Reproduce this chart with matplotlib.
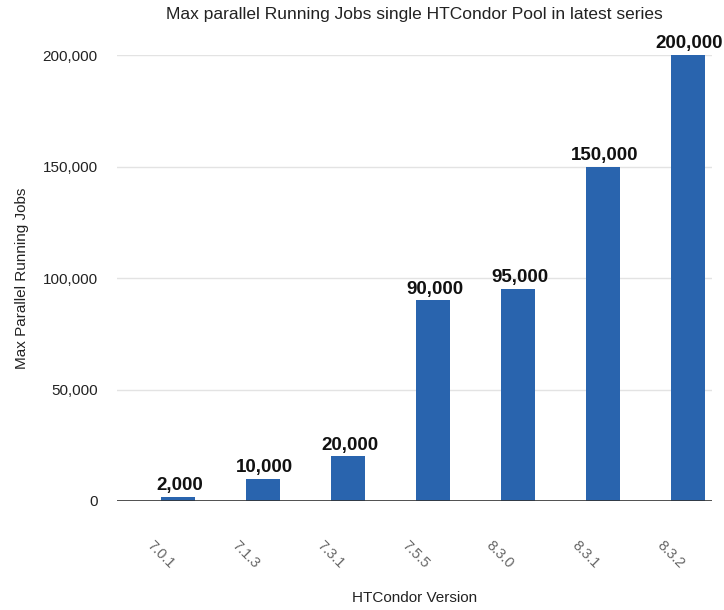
import matplotlib.pyplot as plt
from matplotlib.transforms import ScaledTranslation

# data
versions = ["7.0.1", "7.1.3", "7.3.1", "7.5.5", "8.3.0", "8.3.1", "8.3.2"]
max_jobs = [2000, 10000, 20000, 90000, 95000, 150000, 200000]
y_ticks = [0, 50000, 100000, 150000, 200000]

plt.rcParams["font.family"] = ["Liberation Sans", "DejaVu Sans"]

fig = plt.figure(figsize=(7.24, 6.10), dpi=100)
ax = fig.add_axes([0.1616, 0.1787, 0.8218, 0.7311])

x = list(range(len(versions)))
bars = ax.bar(x, max_jobs, width=0.40, color="#2964ae", zorder=3)

# value labels on top of each bar
for xi, v in zip(x, max_jobs):
    ax.annotate(f"{v:,}", (xi, v), xytext=(1, 2), textcoords="offset points",
                ha="center", va="bottom", fontsize=13.5, fontweight="bold",
                color="#111111", clip_on=False)

ax.set_xlim(-0.72, 6.28)
ax.set_ylim(0, 200000)
ax.set_yticks(y_ticks, [f"{t:,}" for t in y_ticks])
ax.grid(axis="y", color="#e3e3e3", linewidth=1.0, zorder=0)
ax.axhline(0, color="#333333", linewidth=1.2, zorder=4)

for s in ax.spines.values():
    s.set_visible(False)

ax.tick_params(axis="y", length=0, pad=14, labelsize=11, labelcolor="#222222")
ax.tick_params(axis="x", length=0, pad=27, labelsize=10.5, labelcolor="#666666")
ax.set_xticks(x, versions, rotation=-45, ha="center")
shift = ScaledTranslation(-0.18, 0, fig.dpi_scale_trans)
for lbl in ax.get_xticklabels():
    lbl.set_transform(lbl.get_transform() + shift)

ax.set_xlabel("HTCondor Version", fontsize=11, color="#222222", labelpad=14)
ax.set_ylabel("Max Parallel Running Jobs", fontsize=11, color="#222222", labelpad=10)
ax.set_title("Max parallel Running Jobs single HTCondor Pool in latest series",
             fontsize=12.5, color="#222222", pad=26)

fig.savefig("out.png", dpi=100)
